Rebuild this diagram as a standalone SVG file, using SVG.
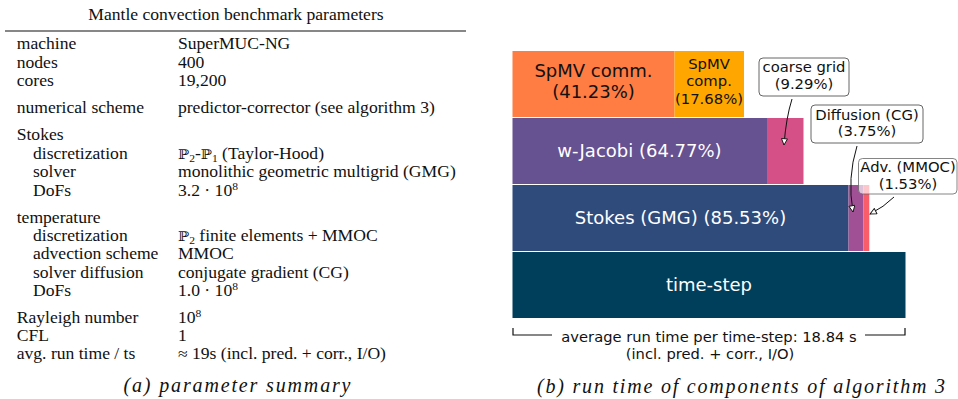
<svg xmlns="http://www.w3.org/2000/svg" width="958" height="399" viewBox="0 0 958 399">
<style>
.tbl{font-family:"Liberation Serif","DejaVu Serif",serif;font-size:16px;fill:#111}
.bb{font-family:"DejaVu Serif","DejaVu Sans",serif;font-size:13.5px}
.cap{font-family:"Liberation Serif",serif;font-style:italic;font-size:20px;fill:#111;text-anchor:middle}
.lbl{font-family:"DejaVu Sans",sans-serif;text-anchor:middle}
.big{font-size:18px}
.sm{font-size:14.8px}
.w{fill:#fff}
.k{fill:#111}
.box{fill:#fff;stroke:#666;stroke-width:1}
.arr{fill:none;stroke:#111;stroke-width:1}
</style>
<defs>
<marker id="head" viewBox="0 0 10 10" refX="9.5" refY="5" markerWidth="8" markerHeight="7" markerUnits="userSpaceOnUse" orient="auto">
<path d="M0.5,0.7 L9.5,5 L0.5,9.3 z" fill="#fff" stroke="#111" stroke-width="1.3"/>
</marker>
</defs>
<rect width="958" height="399" fill="#fff"/>

<!-- (a) parameter summary -->
<g id="table">
<g transform="scale(1.1 1)" class="tbl">
<text x="214.5" y="20" text-anchor="middle">Mantle convection benchmark parameters</text>
<text x="15.2" y="49.5">machine</text><text x="161.8" y="49.5">SuperMUC-NG</text>
<text x="15.2" y="67.8">nodes</text><text x="161.8" y="67.8">400</text>
<text x="15.2" y="86.1">cores</text><text x="161.8" y="86.1">19,200</text>
<text x="15.2" y="113.1">numerical scheme</text><text x="161.8" y="113.1">predictor-corrector (see algorithm 3)</text>
<text x="15.2" y="140.3">Stokes</text>
<text x="30" y="158.8">discretization</text><text x="161.8" y="158.8"><tspan class="bb">ℙ</tspan><tspan font-size="10.5" dy="3">2</tspan><tspan dy="-3">-</tspan><tspan class="bb">ℙ</tspan><tspan font-size="10.5" dy="3">1</tspan><tspan dy="-3"> (Taylor-Hood)</tspan></text>
<text x="30" y="177.2">solver</text><text x="161.8" y="177.2">monolithic geometric multigrid (GMG)</text>
<text x="30" y="195.6">DoFs</text><text x="161.8" y="195.6">3.2 · 10<tspan font-size="10.5" dy="-6">8</tspan></text>
<text x="15.2" y="222.6">temperature</text>
<text x="30" y="241">discretization</text><text x="161.8" y="241"><tspan class="bb">ℙ</tspan><tspan font-size="10.5" dy="3">2</tspan><tspan dy="-3"> finite elements + MMOC</tspan></text>
<text x="30" y="259.3">advection scheme</text><text x="161.8" y="259.3">MMOC</text>
<text x="30" y="277.6">solver diffusion</text><text x="161.8" y="277.6">conjugate gradient (CG)</text>
<text x="30" y="295.9">DoFs</text><text x="161.8" y="295.9">1.0 · 10<tspan font-size="10.5" dy="-6">8</tspan></text>
<text x="15.2" y="322.9">Rayleigh number</text><text x="161.8" y="322.9">10<tspan font-size="10.5" dy="-6">8</tspan></text>
<text x="15.2" y="341">CFL</text><text x="161.8" y="341">1</text>
<text x="15.2" y="359">avg. run time / ts</text><text x="161.8" y="359">≈ 19s (incl. pred. + corr., I/O)</text>
</g>
<line x1="5" y1="31" x2="466" y2="31" stroke="#111" stroke-width="1.2"/>
<text class="cap" x="237" y="392" textLength="227" lengthAdjust="spacing">(a) parameter summary</text>
</g>

<!-- (b) run time chart -->
<g id="spmv-comm"><rect x="512.5" y="51" width="162" height="66" fill="#ff7c43"/>
<text class="lbl big k" x="593.5" y="77">SpMV comm.</text><text class="lbl big k" x="593.5" y="98">(41.23%)</text></g>
<g id="spmv-comp"><rect x="674.5" y="51" width="69.5" height="66" fill="#ffa600"/>
<text class="lbl sm k" x="709" y="69">SpMV</text><text class="lbl sm k" x="709" y="86">comp.</text><text class="lbl sm k" x="709" y="103.5">(17.68%)</text></g>
<g id="w-jacobi"><rect x="512.5" y="118" width="254.5" height="66" fill="#665191"/>
<text class="lbl big w" x="639.5" y="157">w-Jacobi (64.77%)</text></g>
<g id="coarse-grid-bar"><rect x="767" y="118" width="36.5" height="66" fill="#d45087"/></g>
<g id="stokes"><rect x="512.5" y="185" width="336" height="66" fill="#2f4b7c"/>
<text class="lbl big w" x="680.5" y="224">Stokes (GMG) (85.53%)</text></g>
<g id="diffusion-bar"><rect x="848.5" y="185" width="14.8" height="66" fill="#a05195"/></g>
<g id="adv-bar"><rect x="863.3" y="185" width="6" height="66" fill="#f95d6a"/></g>
<g id="time-step"><rect x="512.5" y="252" width="393" height="66" fill="#003f5c"/>
<text class="lbl big w" x="709" y="291">time-step</text></g>

<g id="coarse-grid"><rect class="box" x="759" y="58" width="90" height="38" rx="4"/>
<text class="lbl sm k" x="804" y="72">coarse grid</text><text class="lbl sm k" x="804" y="89">(9.29%)</text></g>
<g id="diffusion"><rect class="box" x="811" y="105" width="112" height="38" rx="4"/>
<text class="lbl sm k" x="867" y="119.5">Diffusion (CG)</text><text class="lbl sm k" x="867" y="136">(3.75%)</text></g>
<g id="adv"><rect class="box" x="858.5" y="158.5" width="98.5" height="35.5" rx="4" fill-opacity="0.65" stroke-opacity="0.8"/>
<text class="lbl sm k" x="908" y="172">Adv. (MMOC)</text><text class="lbl sm k" x="908" y="188.5">(1.53%)</text></g>

<g id="connectors">
<path class="arr" d="M792,99 Q786,118 784,145" marker-end="url(#head)"/>
<path class="arr" d="M857,146 Q847,178 853,212" marker-end="url(#head)"/>
<path class="arr" d="M894,197 Q884,207 870,214" marker-end="url(#head)"/>
</g>

<g id="total">
<path d="M513,328 V335 H552 M865,335 H905 V328" fill="none" stroke="#111" stroke-width="1.2"/>
<text class="lbl k" font-size="14.7" x="709" y="342">average run time per time-step: 18.84 s</text>
<text class="lbl k" font-size="14.7" x="710" y="359">(incl. pred. + corr., I/O)</text>
</g>
<text class="cap" x="741" y="393" textLength="408" lengthAdjust="spacing">(b) run time of components of algorithm 3</text>
</svg>
